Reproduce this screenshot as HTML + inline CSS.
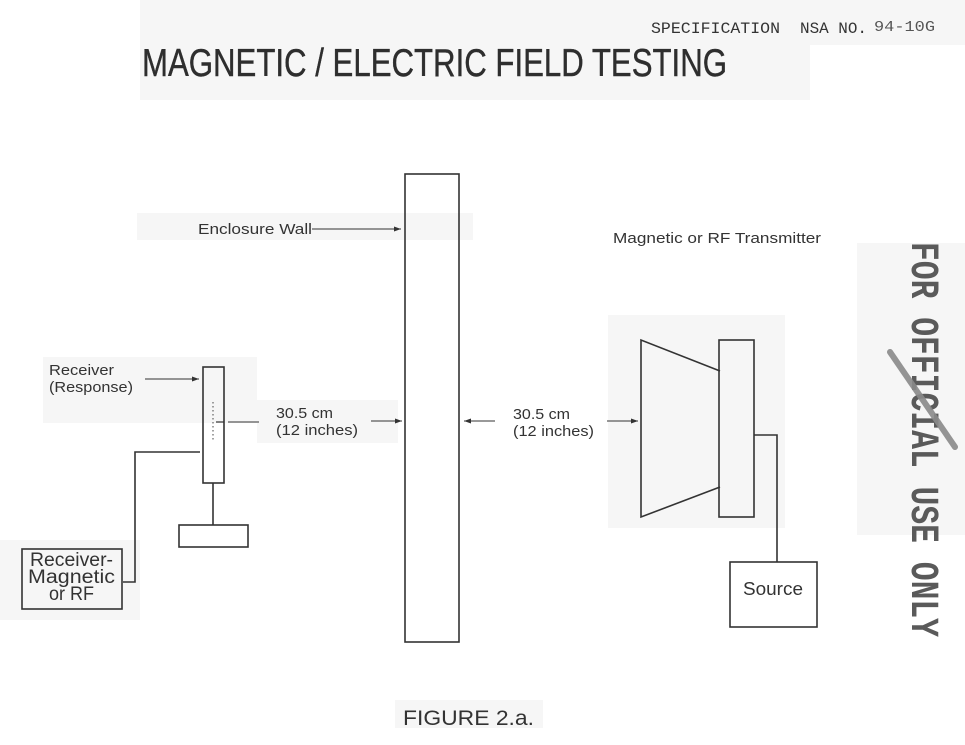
<!DOCTYPE html>
<html><head><meta charset="utf-8"><style>
html,body{margin:0;padding:0;background:#fff;}
svg{display:block;}
</style></head><body>
<svg width="965" height="745" viewBox="0 0 965 745" xmlns="http://www.w3.org/2000/svg">
<defs>
<marker id="ah" markerWidth="8" markerHeight="6" refX="7" refY="3" orient="auto" markerUnits="userSpaceOnUse">
<path d="M0,0.5 L7,3 L0,5.5 Z" fill="#333"/>
</marker>
</defs>
<rect x="0" y="0" width="965" height="745" fill="#fff"/>
<!-- faint scan patches -->
<g fill="#f6f6f6">
<rect x="140" y="0" width="825" height="45"/>
<rect x="140" y="45" width="670" height="55"/>
<rect x="137" y="213" width="336" height="27"/>
<rect x="43" y="357" width="214" height="66"/>
<rect x="257" y="400" width="141" height="43"/>
<rect x="0" y="540" width="140" height="80"/>
<rect x="608" y="315" width="177" height="213"/>
<rect x="857" y="243" width="108" height="292"/>
<rect x="395" y="700" width="148" height="28"/>
</g>

<!-- header -->
<g font-family="'Liberation Mono', monospace" fill="#333">
<text x="651" y="33" font-size="16" textLength="129" lengthAdjust="spacingAndGlyphs">SPECIFICATION</text>
<text x="800" y="33" font-size="16" textLength="67" lengthAdjust="spacingAndGlyphs">NSA NO.</text>
<text x="874" y="31" font-size="15" fill="#555" textLength="61" lengthAdjust="spacingAndGlyphs">94-10G</text>
</g>
<text x="142" y="76" font-family="'Liberation Sans', sans-serif" font-size="39" fill="#2e2e2e" stroke="#2e2e2e" stroke-width="0.4" textLength="585" lengthAdjust="spacingAndGlyphs">MAGNETIC / ELECTRIC FIELD TESTING</text>

<g stroke="#333" fill="none" stroke-width="1.6">
<!-- enclosure wall -->
<rect x="405" y="174" width="54" height="468"/>
<!-- receiver bar -->
<rect x="203" y="367" width="21" height="116"/>
<line x1="213" y1="483" x2="213" y2="525"/>
<rect x="179" y="525" width="69" height="22"/>
<!-- wire receiver -->
<polyline points="200,452 135,452 135,582 123,582"/>
<!-- receiver box -->
<rect x="22" y="549" width="100" height="60"/>
<!-- transmitter -->
<polyline points="720,371 641,340 641,517 720,487"/>
<rect x="719" y="340" width="35" height="177"/>
<polyline points="754,435 777,435 777,562"/>
<rect x="730" y="562" width="87" height="65"/>
</g>

<!-- dotted line in receiver -->
<line x1="213" y1="402" x2="213" y2="440" stroke="#444" stroke-width="1" stroke-dasharray="1.5,2.5"/>
<line x1="216" y1="422" x2="224" y2="422" stroke="#333" stroke-width="1.2"/>

<!-- arrows -->
<g stroke="#333" stroke-width="1.1" fill="none">
<line x1="312" y1="229" x2="401" y2="229" marker-end="url(#ah)"/>
<line x1="145" y1="379" x2="199" y2="379" marker-end="url(#ah)"/>
<line x1="228" y1="422" x2="259" y2="422"/>
<line x1="371" y1="421" x2="402" y2="421" marker-end="url(#ah)"/>
<line x1="495" y1="421" x2="464" y2="421" marker-end="url(#ah)"/>
<line x1="607" y1="421" x2="638" y2="421" marker-end="url(#ah)"/>
</g>

<!-- labels -->
<g font-family="'Liberation Sans', sans-serif" fill="#333" font-size="15">
<text x="198" y="234" textLength="114" lengthAdjust="spacingAndGlyphs">Enclosure Wall</text>
<text x="613" y="243" textLength="208" lengthAdjust="spacingAndGlyphs">Magnetic or RF Transmitter</text>
<text x="49" y="375" textLength="65" lengthAdjust="spacingAndGlyphs">Receiver</text>
<text x="49" y="392" textLength="84" lengthAdjust="spacingAndGlyphs">(Response)</text>
<text x="276" y="418" textLength="57" lengthAdjust="spacingAndGlyphs">30.5 cm</text>
<text x="276" y="435" textLength="82" lengthAdjust="spacingAndGlyphs">(12 inches)</text>
<text x="513" y="419" textLength="57" lengthAdjust="spacingAndGlyphs">30.5 cm</text>
<text x="513" y="436" textLength="81" lengthAdjust="spacingAndGlyphs">(12 inches)</text>
</g>
<g font-family="'Liberation Sans', sans-serif" fill="#333" font-size="19">
<text x="30" y="566" textLength="83" lengthAdjust="spacingAndGlyphs">Receiver-</text>
<text x="28" y="583" textLength="87" lengthAdjust="spacingAndGlyphs">Magnetic</text>
<text x="49" y="600" textLength="45" lengthAdjust="spacingAndGlyphs">or RF</text>
<text x="743" y="595" font-size="18" textLength="60" lengthAdjust="spacingAndGlyphs">Source</text>
</g>
<text x="403" y="725" font-family="'Liberation Sans', sans-serif" font-size="21" fill="#333" textLength="131" lengthAdjust="spacingAndGlyphs">FIGURE 2.a.</text>

<!-- vertical stamp -->
<text transform="translate(912,242) rotate(90)" font-family="'Liberation Mono', monospace" font-weight="bold" font-size="40" fill="#5a5a5a" textLength="395" lengthAdjust="spacingAndGlyphs">FOR OFFICIAL USE ONLY</text>
<line x1="890" y1="352" x2="955" y2="447" stroke="#8a8a8a" stroke-width="6" stroke-linecap="round" opacity="0.9"/>
</svg>
</body></html>
